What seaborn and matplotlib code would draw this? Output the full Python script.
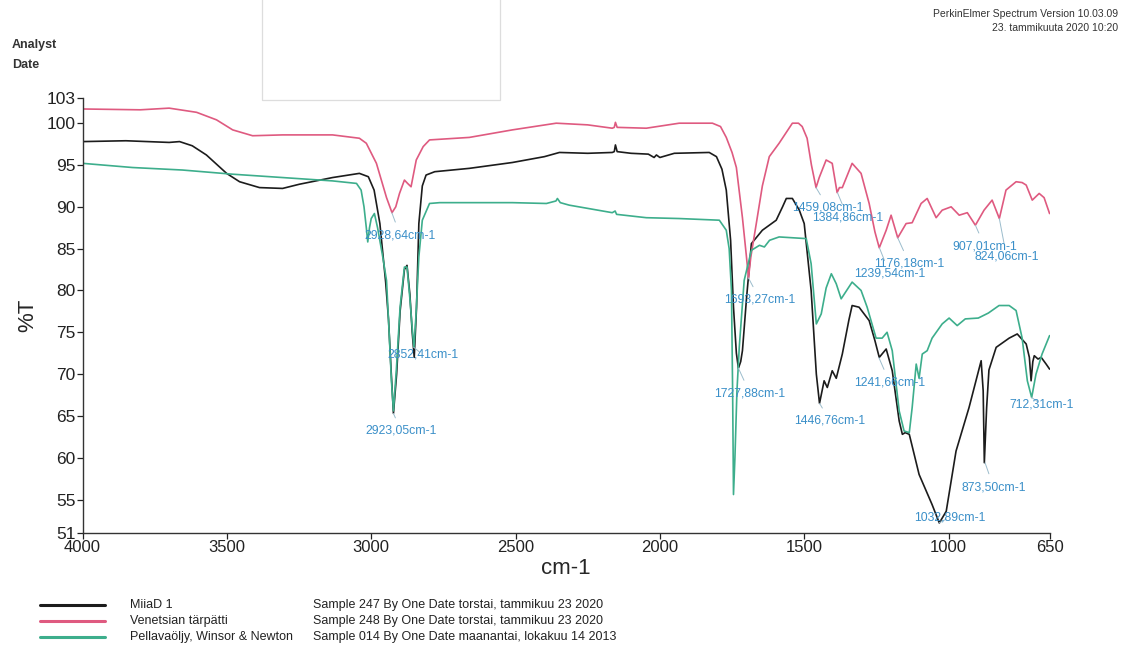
import matplotlib
matplotlib.use("Agg")
import matplotlib.pyplot as plt
import seaborn as sns
import pandas as pd
from matplotlib.lines import Line2D
from matplotlib.patches import Rectangle

# ---------------- data ----------------
black_wn = [4000, 3850, 3700, 3664, 3620, 3571, 3501, 3456, 3387, 3307, 3249, 3134, 3041, 3010, 2990, 2970,
            2950, 2940, 2932, 2923, 2912, 2900, 2885, 2876, 2866, 2858, 2851, 2843, 2835, 2823, 2810, 2780,
            2660, 2511, 2400, 2348, 2250, 2165, 2158, 2154, 2148, 2100, 2040, 2020, 2012, 2000, 1950, 1829,
            1804, 1785, 1770, 1755, 1745, 1735, 1728, 1720, 1714, 1700, 1683, 1645, 1597, 1575, 1562, 1541,
            1517, 1500, 1476, 1458, 1447, 1431, 1420, 1403, 1389, 1368, 1345, 1334, 1310, 1275, 1255, 1240,
            1216, 1195, 1171, 1160, 1150, 1136, 1102, 1057, 1032, 1008, 974, 929, 887, 880, 876, 868, 860,
            835, 790, 762, 731, 720, 714, 708, 703, 690, 679, 662, 650]
black_t = [97.8, 97.9, 97.7, 97.8, 97.3, 96.2, 94.0, 93.0, 92.3, 92.2, 92.7, 93.5, 94.0, 93.6, 92.0, 88.0,
           81.0, 76.5, 71.0, 65.3, 70.0, 77.5, 82.5, 83.0, 79.5, 75.0, 72.0, 78.0, 88.0, 92.5, 93.8, 94.2,
           94.6, 95.3, 96.0, 96.5, 96.4, 96.5, 96.6, 97.4, 96.6, 96.4, 96.3, 95.9, 96.2, 95.9, 96.4, 96.5,
           96.0, 94.5, 92.0, 86.0, 78.0, 72.5, 70.7, 71.5, 72.8, 79.0, 85.6, 87.2, 88.4, 90.0, 91.0, 91.0,
           89.6, 88.0, 80.0, 70.0, 66.5, 69.2, 68.4, 70.4, 69.5, 72.4, 76.5, 78.2, 78.0, 76.4, 74.0, 72.0,
           73.0, 70.4, 64.4, 62.8, 63.0, 62.8, 58.0, 54.4, 52.2, 53.6, 60.8, 66.0, 71.6, 68.0, 59.4, 66.0, 70.5,
           73.2, 74.3, 74.8, 73.6, 72.0, 69.2, 71.5, 72.2, 71.8, 72.0, 71.2, 70.6]

pink_wn = [4000, 3800, 3700, 3605, 3536, 3480, 3411, 3307, 3134, 3041, 3017, 2982, 2947, 2928, 2915, 2902,
           2885, 2874, 2862, 2844, 2820, 2798, 2660, 2511, 2359, 2250, 2165, 2158, 2154, 2148, 2047, 1933,
           1818, 1790, 1770, 1750, 1735, 1714, 1700, 1693, 1685, 1666, 1645, 1621, 1587, 1541, 1520, 1507,
           1490, 1475, 1459, 1448, 1424, 1403, 1386, 1378, 1368, 1334, 1303, 1275, 1255, 1240, 1216, 1199,
           1176, 1147, 1126, 1095, 1074, 1043, 1022, 991, 963, 935, 907, 877, 849, 824, 801, 766, 745, 731,
           710, 686, 669, 650]
pink_t = [101.7, 101.6, 101.8, 101.3, 100.4, 99.2, 98.5, 98.6, 98.6, 98.2, 97.6, 95.2, 91.1, 89.3, 90.0, 91.6,
          93.2, 92.8, 92.4, 95.6, 97.2, 98.0, 98.3, 99.2, 100.0, 99.8, 99.4, 99.5, 100.1, 99.5, 99.4, 100.0,
          100.0, 99.6, 98.3, 96.5, 94.7, 88.7, 84.0, 81.5, 84.0, 88.0, 92.5, 96.0, 97.6, 100.0, 100.0, 99.6,
          98.2, 95.0, 92.3, 93.5, 95.6, 95.2, 91.7, 92.3, 92.3, 95.2, 94.0, 90.4, 87.0, 85.1, 87.2, 89.0,
          86.3, 88.0, 88.1, 90.4, 91.0, 88.7, 89.6, 90.0, 89.0, 89.3, 87.8, 89.6, 90.8, 88.6, 92.0, 93.0, 92.9, 92.6,
          90.8, 91.6, 91.1, 89.2]

green_wn = [4000, 3827, 3654, 3480, 3307, 3134, 3051, 3035, 3025, 3017, 3012, 3006, 3000, 2989, 2978, 2960,
            2947, 2938, 2930, 2923, 2913, 2900, 2885, 2876, 2866, 2858, 2852, 2845, 2835, 2823, 2798, 2763,
            2511, 2393, 2360, 2355, 2345, 2314, 2165, 2155, 2150, 2047, 1933, 1794, 1770, 1760, 1752, 1748,
            1745, 1740, 1733, 1725, 1708, 1683, 1655, 1638, 1620, 1587, 1493, 1476, 1458, 1441, 1424, 1406,
            1389, 1372, 1334, 1303, 1282, 1251, 1230, 1213, 1195, 1171, 1154, 1136, 1126, 1112, 1102, 1091,
            1074, 1057, 1022, 998, 970, 942, 897, 862, 825, 790, 766, 745, 727, 712, 697, 676, 650]
green_t = [95.2, 94.7, 94.4, 93.9, 93.5, 93.1, 92.8, 92.0, 90.0, 87.5, 85.8, 87.5, 88.6, 89.2, 87.5, 84.0,
           81.2, 75.0, 69.2, 65.6, 70.5, 78.0, 82.8, 82.8, 79.0, 75.5, 73.2, 77.0, 84.0, 88.4, 90.4, 90.5,
           90.5, 90.4, 90.7, 91.0, 90.5, 90.2, 89.3, 89.5, 89.1, 88.7, 88.6, 88.4, 87.2, 85.0, 80.0, 68.0,
           55.6, 60.0, 68.0, 73.2, 81.2, 84.8, 85.4, 85.2, 86.0, 86.4, 86.2, 83.2, 76.0, 77.2, 80.3, 82.0,
           80.8, 79.0, 81.0, 80.0, 78.0, 74.3, 74.3, 75.0, 72.8, 65.6, 63.2, 63.0, 66.0, 71.2, 69.5, 72.4,
           72.8, 74.3, 76.0, 76.7, 75.8, 76.6, 76.7, 77.3, 78.2, 78.2, 77.6, 74.3, 69.2, 67.2, 70.0, 72.4, 74.6]

series_names = ["MiiaD 1", "Venetsian tärpätti", "Pellavaöljy, Winsor & Newton"]
series_info = ["Sample 247 By One Date torstai, tammikuu 23 2020",
               "Sample 248 By One Date torstai, tammikuu 23 2020",
               "Sample 014 By One Date maanantai, lokakuu 14 2013"]
series_colors = ["#1c1c1c", "#df5a80", "#3dae8c"]

# peak labels: text, peak wavenumber, peak %T, label anchor wavenumber, label %T
peak_text = ["2928,64cm-1", "2852,41cm-1", "2923,05cm-1", "1459,08cm-1", "1384,86cm-1", "1176,18cm-1",
             "1239,54cm-1", "907,01cm-1", "824,06cm-1", "1693,27cm-1", "1727,88cm-1", "1446,76cm-1",
             "1241,66cm-1", "1032,89cm-1", "873,50cm-1", "712,31cm-1"]
peak_wn = [2928.64, 2852.41, 2923.05, 1459.08, 1384.86, 1176.18, 1239.54, 907.01, 824.06, 1693.27,
           1727.88, 1446.76, 1241.66, 1032.89, 873.50, 712.31]
peak_t = [89.3, 73.2, 65.3, 92.3, 91.7, 86.3, 85.1, 87.8, 88.6, 81.5, 70.7, 66.5, 72.0, 52.2, 59.4, 67.2]
label_wn = [3023, 2944, 3020, 1541, 1472, 1257, 1327, 987, 911, 1777, 1811, 1534, 1327, 1119, 956, 790]
label_t = [86.6, 72.3, 63.2, 89.9, 88.7, 83.2, 82.0, 85.3, 84.1, 78.9, 67.7, 64.4, 69.0, 52.9, 56.5, 66.4]

x_ticks = [4000, 3500, 3000, 2500, 2000, 1500, 1000, 650]
y_ticks = [103, 100, 95, 90, 85, 80, 75, 70, 65, 60, 55, 51]

# ---------------- plot ----------------
sns.set_style("ticks")
plt.rcParams["font.family"] = ["Liberation Sans", "DejaVu Sans"]

fig = plt.figure(figsize=(11.31, 6.54), dpi=100)
ax = fig.add_axes([0.073, 0.185, 0.855, 0.665])

frames = [pd.DataFrame({"wn": w, "T": t}) for w, t in
          [(black_wn, black_t), (pink_wn, pink_t), (green_wn, green_t)]]
for df, col in zip(frames, series_colors):
    sns.lineplot(data=df, x="wn", y="T", color=col, lw=1.2, ax=ax, sort=False, estimator=None)

ax.set_xlim(4000, 650)
ax.set_ylim(51, 103)
ax.set_xticks(x_ticks)
ax.set_xticklabels([str(v) for v in x_ticks], fontsize=12)
ax.set_yticks(y_ticks)
ax.set_yticklabels([str(v) for v in y_ticks], fontsize=12.5)
ax.set_xlabel("cm-1", fontsize=16, labelpad=2)
ax.set_ylabel("%T", fontsize=16, labelpad=6)
ax.tick_params(axis="both", direction="out", length=4, width=0.9, colors="#222222", pad=1)
for s in ["top", "right"]:
    ax.spines[s].set_visible(False)
for s in ["left", "bottom"]:
    ax.spines[s].set_color("#333333")
    ax.spines[s].set_linewidth(1.0)

label_color = "#3a8fc8"
for txt, pw, pt, lw_, lt in zip(peak_text, peak_wn, peak_t, label_wn, label_t):
    ax.annotate(txt, xy=(pw, pt), xytext=(lw_, lt), textcoords="data",
                ha="left", va="center", fontsize=8.8, color=label_color,
                arrowprops=dict(arrowstyle="-", color="#9bbccc", lw=0.7, shrinkA=3, shrinkB=0))

# header texts
fig.text(0.0106, 0.931, "Analyst", fontsize=9, fontweight="bold", color="#333333", va="center")
fig.text(0.0106, 0.900, "Date", fontsize=9, fontweight="bold", color="#333333", va="center")
fig.text(0.9885, 0.979, "PerkinElmer Spectrum Version 10.03.09", fontsize=7.5, color="#333333",
         ha="right", va="center")
fig.text(0.9885, 0.957, "23. tammikuuta 2020 10:20", fontsize=7.5, color="#333333",
         ha="right", va="center")
fig.add_artist(Rectangle((0.2317, 0.847), 0.210, 0.2, transform=fig.transFigure,
                         fill=False, edgecolor="#dddddd", lw=0.9))

# legend block
leg_y = [0.075, 0.050, 0.026]
for yy, name, info, col in zip(leg_y, series_names, series_info, series_colors):
    fig.add_artist(Line2D([0.035, 0.093], [yy, yy], transform=fig.transFigure, color=col, lw=2.2))
    fig.text(0.115, yy, name, fontsize=9, color="#222222", va="center")
    fig.text(0.277, yy, info, fontsize=9, color="#222222", va="center")

fig.savefig("out.png", dpi=100, facecolor="white")
